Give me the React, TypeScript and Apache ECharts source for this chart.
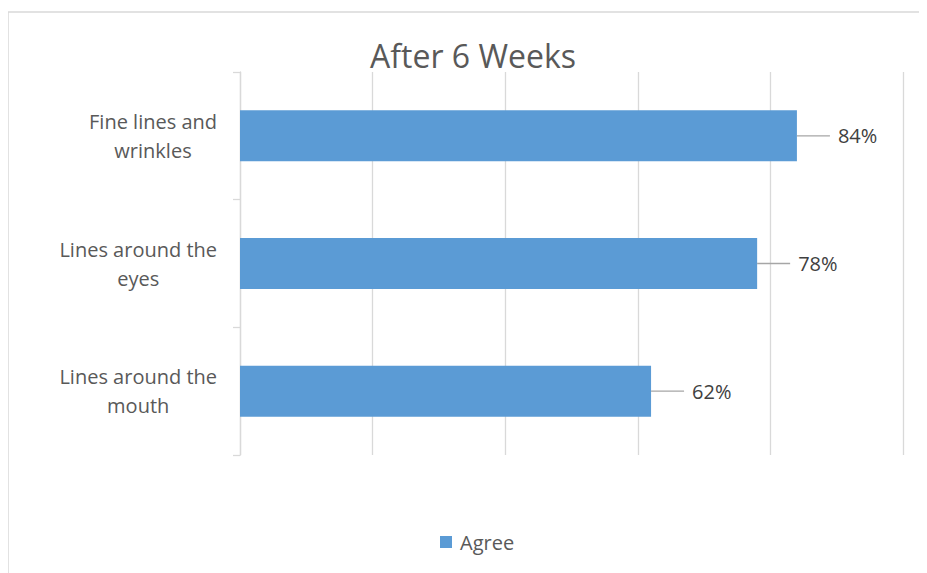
import React, { useEffect, useRef } from "react";
import * as echarts from "echarts";

const categories = ["Fine lines and\nwrinkles", "Lines around the\neyes", "Lines around the\nmouth"];
const agreeValues = [0.84, 0.78, 0.62];
const seriesName = "Agree";
const titleText = "After 6 Weeks";

const FONT = "'Open Sans', sans-serif";

export default function App() {
  const ref = useRef<HTMLDivElement>(null);
  useEffect(() => {
    document.body.style.overflow = "hidden";
    const chart = echarts.init(ref.current!, null, { renderer: "svg" });
    chart.setOption({
      animation: false,
      textStyle: { fontFamily: FONT },
      title: {
        text: titleText,
        left: 460,
        textAlign: "center",
        top: 26,
        textStyle: { fontFamily: FONT, fontSize: 32, fontWeight: "normal", color: "#595959" },
      },
      graphic: [
        {
          type: "rect",
          shape: { x: 0, y: 4, width: 2000, height: 2000 },
          style: { fill: "none", stroke: "#d9d9d9", lineWidth: 1.5 },
          silent: true,
        },
      ],
      legend: {
        data: [seriesName],
        left: 427,
        top: 519,
        itemWidth: 12,
        itemHeight: 12,
        icon: "rect",
        textStyle: { fontFamily: FONT, fontSize: 20, color: "#595959", padding: [0, 0, 0, 3] },
      },
      grid: { left: 232, right: 24, top: 64, bottom: 118, containLabel: false },
      xAxis: {
        type: "value",
        min: 0,
        max: 1,
        interval: 0.2,
        axisLabel: { show: false },
        axisLine: { show: false },
        axisTick: { show: false },
        splitLine: { lineStyle: { color: "#d9d9d9", width: 1.3 } },
      },
      yAxis: {
        type: "category",
        inverse: true,
        data: categories,
        axisLine: { show: true, lineStyle: { color: "#d9d9d9", width: 1.3 } },
        axisTick: { show: true, length: 7, lineStyle: { color: "#d9d9d9", width: 1.3 } },
        axisLabel: {
          margin: 23,
          align: "right",
          color: "#595959",
          formatter: (v: string) => v.split("\n").map((s) => "{c|" + s + "}").join("\n"),
          rich: {
            c: { align: "center", fontFamily: FONT, fontSize: 20, color: "#595959", lineHeight: 29 },
          },
        },
      },
      series: [
        {
          name: seriesName,
          type: "bar",
          data: agreeValues,
          barWidth: 51,
          itemStyle: { color: "#5b9bd5" },
          label: {
            show: true,
            position: "right",
            distance: 0,
            formatter: (p: any) => "{s|}{v|" + Math.round(p.value * 100) + "%}",
            rich: {
              s: { width: 8 },
              v: { fontFamily: FONT, fontSize: 20, color: "#404040" },
            },
          },
          labelLayout: { dx: 33 },
          labelLine: { show: true, lineStyle: { color: "#a6a6a6", width: 1.3 } },
        },
      ],
    });
    return () => chart.dispose();
  }, []);
  return <div ref={ref} style={{ width: 919, height: 565 }} />;
}
